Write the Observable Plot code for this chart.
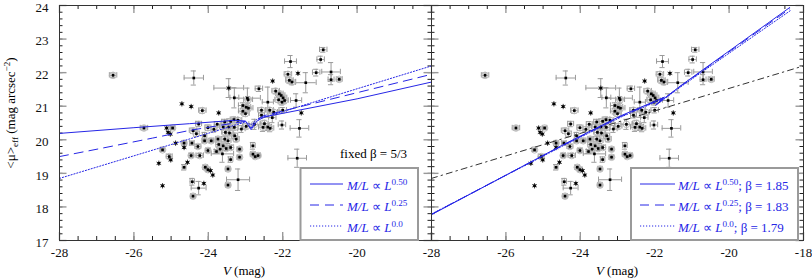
<!DOCTYPE html>
<html><head><meta charset="utf-8">
<script src="https://cdn.jsdelivr.net/npm/d3@7"></script>
<script src="https://cdn.jsdelivr.net/npm/@observablehq/plot@0.6"></script>
<style>
html,body{margin:0;padding:0;background:#fff;}
#chart{width:812px;height:280px;}
#chart svg{display:block;}
</style></head><body><div id="chart"></div>
<script>
// ---- galaxy measurements (V magnitude, mean effective surface brightness) ----
const V = [
 -26.56,-24.39,-24.71,-24.46,-24.16,-23.72,-23.45,-22.95,-22.64,-22.27,
 -22.40,-22.09,-22.04,-21.99,-22.11,-21.95,-22.02,-21.86,-21.79,-21.82,
 -21.75,-21.59,-21.38,-21.10,-20.98,-20.91,-20.70,-20.70,-20.48,-21.64,
 -21.50,-21.55,-22.02,-22.28,-22.40,-22.49,-22.53,-22.34,-22.76,-23.07,
 -22.98,-22.92,-23.07,-23.00,-22.93,-25.73,-25.12,-24.96,-25.08,-25.02,
 -24.26,-24.41,-24.88,-24.65,-24.65,-24.44,-24.10,-24.10,-23.92,-23.74,
 -24.28,-24.46,-24.23,-24.01,-23.78,-25.23,-25.05,-25.01,-25.33,-24.56,
 -24.65,-24.08,-24.01,-23.94,-23.88,-25.23,-24.43,-24.12,-24.26,-24.41,
 -23.60,-23.45,-23.30,-22.98,-23.54,-23.43,-23.29,-23.25,-23.56,-23.47,
 -23.11,-23.60,-23.52,-23.40,-23.62,-23.16,-23.16,-23.40,-22.80,-22.80,
 -22.74,-22.66,-23.47,-23.47,-23.20,-21.61,-23.40,-23.31,-23.20,-23.85,
 -23.76,-24.01,-24.32,-23.72,-23.68,-22.57,-22.35,-22.24,-22.00,-23.56,
 -23.30,-22.57,-22.19
];
const MU = [
 21.92,21.84,21.07,20.99,20.87,20.80,21.54,21.24,21.52,21.75,
 21.12,21.37,21.32,21.25,21.19,21.17,21.12,21.95,22.33,21.77,
 21.72,21.98,21.70,22.00,22.39,22.68,22.02,21.79,21.80,21.17,
 20.80,20.34,20.44,20.66,20.38,20.48,20.37,20.34,20.46,21.02,
 20.97,20.94,20.85,20.78,21.19,20.35,20.35,20.35,20.22,20.17,
 20.47,20.27,19.90,19.90,19.77,19.90,20.12,19.97,19.97,20.02,
 19.80,19.53,19.53,19.68,19.65,19.70,19.50,19.40,19.30,19.33,
 19.18,19.18,19.11,19.08,18.95,18.63,18.75,18.70,18.56,18.32,
 20.38,20.38,20.37,20.40,20.22,20.20,20.12,20.02,20.02,19.97,
 20.32,19.82,19.74,19.77,19.58,19.72,19.48,19.41,19.82,19.57,
 19.50,19.53,19.13,18.65,18.81,19.45,20.55,20.60,20.58,20.31,
 20.46,20.36,20.18,19.86,19.72,20.88,20.88,20.82,20.88,20.53,
 21.25,20.73,21.45
];
const V_ERR = [
 0.10,0.26,0,0,0.10,0,0.40,0.35,0.10,0,
 0.15,0.10,0.10,0.10,0.10,0.10,0.10,0.10,0.16,0.10,
 0.10,0,0.28,0.10,0.10,0.10,0.25,0.08,0.08,0.15,
 0,0.25,0.10,0.10,0.10,0.10,0.12,0.10,0.15,0.12,
 0.12,0.12,0.12,0.10,0.12,0.10,0,0.06,0,0,
 0.08,0.10,0,0.06,0,0.06,0.06,0.06,0.06,0.06,
 0.08,0.06,0.10,0.06,0.06,0.06,0.08,0,0,0,
 0.05,0.06,0.06,0,0,0,0.06,0,0.20,0.06,
 0.10,0.10,0.10,0.10,0.10,0.10,0.08,0.08,0.08,0.08,
 0.10,0.08,0.08,0.08,0.30,0.06,0.06,0.06,0.06,0.06,
 0.06,0.06,0.06,0.06,0.31,0.25,0.10,0.10,0.10,0.08,
 0.08,0.08,0.08,0.08,0.08,0.10,0.10,0.10,0.10,0.08,
 0.12,0.08,0.10
];
const MU_ERR = [
 0.07,0.21,0,0,0.08,0,0.28,0.30,0.08,0,
 0.45,0.08,0.08,0.08,0.08,0.08,0.08,0.08,0.18,0.08,
 0.08,0,0.30,0.10,0.10,0.07,0.28,0.15,0.05,0.20,
 0,0.26,0.12,0.15,0.10,0.10,0.12,0.10,0.15,0.08,
 0.08,0.08,0.08,0.08,0.10,0.06,0,0.05,0,0,
 0.08,0.08,0,0.06,0,0.06,0.10,0.06,0.06,0.06,
 0.06,0.06,0.06,0.06,0.06,0.05,0.06,0,0,0,
 0.08,0.06,0.06,0,0,0,0.10,0,0.20,0.06,
 0.08,0.08,0.08,0.08,0.08,0.08,0.08,0.08,0.08,0.08,
 0.10,0.06,0.06,0.06,0.25,0.06,0.06,0.08,0.10,0.06,
 0.06,0.06,0.06,0.06,0.32,0.27,0.08,0.08,0.08,0.08,
 0.08,0.08,0.08,0.08,0.08,0.08,0.08,0.08,0.08,0.08,
 0.30,0.08,0.08
];
// c = ringed symbol, a = asterisk, p = plain dot
const KIND = (
 "cpaacaappa" + "pcccccccpc" + "cappppppcp" + "appppccccp" + "ccccccacaa" +
 "pcacappccc" + "ccccpccaaa" + "pccaaapapc" + "ccccccpccp" + "pcccpccppc" +
 "ccccppcccc" + "pcccccccpp" + "ppc"
).split("");

// ---- model curves ----
const FIXED_050_V  = [-28, -26, -24.5, -23.3, -23.0, -22.85, -22.7, -22.5, -20, -18];
const FIXED_050_MU = [20.19, 20.36, 20.48, 20.58, 20.56, 20.30, 20.55, 20.68, 21.22, 21.72];
const FIXED_025_V  = [-28, -26.9, -25.5, -24.5, -23.3, -23.0, -22.85, -22.7, -22.5, -18];
const FIXED_025_MU = [19.50, 19.74, 20.05, 20.28, 20.50, 20.55, 20.35, 20.60, 20.72, 21.95];
const FIXED_000_V  = [-28, -23.0, -22.85, -22.7, -18];
const FIXED_000_MU = [18.85, 20.53, 20.45, 20.60, 22.20];
const FIT_050_V  = [-28, -24.5, -22.9, -21.74, -21.96, -21.29, -18.37];
const FIT_050_MU = [17.77, 19.83, 20.72, 21.27, 21.05, 21.62, 23.94];
const FIT_025_V  = [-28, -24.5, -22.9, -21.76, -21.97, -21.30, -18.37];
const FIT_025_MU = [17.78, 19.82, 20.70, 21.25, 21.04, 21.60, 23.90];
const FIT_000_V  = [-28, -24.5, -22.9, -21.78, -21.98, -21.31, -18.35];
const FIT_000_MU = [17.79, 19.80, 20.68, 21.22, 21.02, 21.57, 23.85];
const BETA53_V  = [-28, -18];
const BETA53_MU = [18.85, 22.20];

// ---- axes / legend text ----
const PANELS = ["fixed", "fit"];
const X_TICKS_FIXED = [-28, -26, -24, -22, -20];
const X_TICKS_FIT = [-28, -26, -24, -22, -20, -18];
const Y_TICKS = [17, 18, 19, 20, 21, 22, 23, 24];
const LEGEND_EXP = ["0.50", "0.25", "0.0"];
const FIT_BETA = ["1.85", "1.83", "1.79"];
const FIXED_BETA = "5/3";

// ---------------------------------------------------------------
const BLUE = "#2626e6";
const FONT = "'Liberation Serif','Times New Roman',serif";
const DASH = {"0.50": null, "0.25": "9,6", "0.0": "1.2,1.8"};

const pts = V.map((v, i) => ({v, mu: MU[i], xe: V_ERR[i], ye: MU_ERR[i], k: KIND[i]}));
const errPts = pts.filter(d => d.xe > 0 || d.ye > 0);
const CAP_V = 0.07, CAP_MU = 0.08;

const curve = (p, vs, ms) => vs.map((v, i) => ({p, v, mu: ms[i]}));
const lines050 = [...curve("fixed", FIXED_050_V, FIXED_050_MU), ...curve("fit", FIT_050_V, FIT_050_MU)];
const lines025 = [...curve("fixed", FIXED_025_V, FIXED_025_MU), ...curve("fit", FIT_025_V, FIT_025_MU)];
const lines000 = [...curve("fixed", FIXED_000_V, FIXED_000_MU), ...curve("fit", FIT_000_V, FIT_000_MU)];
const linesBeta = curve("fit", BETA53_V, BETA53_MU);

const X_MAJOR = d3.range(-28, -17.9, 2);
const X_MINOR = d3.range(-28, -17.9, 0.5);
const Y_MAJOR = Y_TICKS;
const Y_MINOR = d3.range(17, 24.01, 0.2);

const xTickRows = PANELS.flatMap(p => (p === "fixed" ? X_TICKS_FIXED : X_TICKS_FIT).map(v => ({p, v})));
const yTickRows = Y_TICKS.map(v => ({p: "fixed", v}));

const FW = 372.5; // facet width in px
const ERR = "#9a9a9a";
const plot = Plot.plot({
  width: 812, height: 280,
  marginLeft: 58, marginRight: 9, marginTop: 5, marginBottom: 40,
  style: {fontFamily: FONT, fontSize: "13px", background: "white", overflow: "visible"},
  fx: {domain: PANELS, padding: 0, axis: null, label: null},
  x: {domain: [-28, -18], axis: null},
  y: {domain: [17, 24], axis: null},
  marks: [
    // ticks (inward)
    Plot.tickX(X_MINOR, {stroke: "#222", insetTop: 231}),
    Plot.tickX(X_MINOR, {stroke: "#222", insetBottom: 231}),
    Plot.tickX(X_MAJOR, {stroke: "#999", strokeWidth: 1.4, insetTop: 227}),
    Plot.tickX(X_MAJOR, {stroke: "#999", strokeWidth: 1.4, insetBottom: 227}),
    Plot.tickY(Y_MINOR, {stroke: "#222", insetRight: FW - 4}),
    Plot.tickY(Y_MINOR, {stroke: "#222", insetLeft: FW - 4}),
    Plot.tickY(Y_MAJOR, {stroke: "#999", strokeWidth: 1.4, insetRight: FW - 8}),
    Plot.tickY(Y_MAJOR, {stroke: "#999", strokeWidth: 1.4, insetLeft: FW - 8}),
    // error bars
    Plot.ruleX(errPts, {x: "v", y1: d => d.mu - d.ye, y2: d => d.mu + d.ye, stroke: ERR}),
    Plot.ruleY(errPts, {y: "mu", x1: d => d.v - d.xe, x2: d => d.v + d.xe, stroke: ERR}),
    Plot.ruleY(errPts, {y: d => d.mu - d.ye, x1: d => d.v - CAP_V, x2: d => d.v + CAP_V, stroke: ERR}),
    Plot.ruleY(errPts, {y: d => d.mu + d.ye, x1: d => d.v - CAP_V, x2: d => d.v + CAP_V, stroke: ERR}),
    Plot.ruleX(errPts, {x: d => d.v - d.xe, y1: d => d.mu - CAP_MU, y2: d => d.mu + CAP_MU, stroke: ERR}),
    Plot.ruleX(errPts, {x: d => d.v + d.xe, y1: d => d.mu - CAP_MU, y2: d => d.mu + CAP_MU, stroke: ERR}),
    // symbols
    Plot.dot(pts.filter(d => d.k === "c"), {x: "v", y: "mu", r: 3.3, stroke: "#bdbdbd", strokeWidth: 1, fill: "none"}),
    Plot.dot(pts.filter(d => d.k === "a"), {x: "v", y: "mu", r: 2.5, symbol: "asterisk", stroke: "#444", strokeWidth: 1}),
    Plot.dot(pts, {x: "v", y: "mu", r: 1.5, symbol: "square", fill: "#000", stroke: "none"}),
    // model lines
    Plot.line(linesBeta, {x: "v", y: "mu", fx: "p", stroke: "#333", strokeWidth: 1, strokeDasharray: "6,4,1.5,4"}),
    Plot.line(lines000, {x: "v", y: "mu", fx: "p", stroke: BLUE, strokeWidth: 1, strokeDasharray: DASH["0.0"]}),
    Plot.line(lines025, {x: "v", y: "mu", fx: "p", stroke: BLUE, strokeWidth: 1, strokeDasharray: DASH["0.25"]}),
    Plot.line(lines050, {x: "v", y: "mu", fx: "p", stroke: BLUE, strokeWidth: 1}),
    // tick labels
    Plot.text(xTickRows, {x: "v", fx: "p", frameAnchor: "bottom", dy: 16, text: d => String(d.v), fill: "#111"}),
    Plot.text(yTickRows, {y: "v", fx: "p", frameAnchor: "left", dx: -11, dy: 2, textAnchor: "end", text: d => String(d.v), fill: "#111"}),
    Plot.frame({stroke: "#333"})
  ]
});
document.getElementById("chart").appendChild(plot);

// ---- rich text (italics, sub/superscripts) and legends ----
const svg = d3.select(plot);
function rich(x, y, parts, {anchor = "start", fill = "#000", size = 13, rotate = 0} = {}) {
  const t = svg.append("text")
    .attr("transform", `translate(${x},${y})` + (rotate ? ` rotate(${rotate})` : ""))
    .attr("text-anchor", anchor).attr("fill", fill)
    .style("font-family", FONT).style("font-size", size + "px");
  let shift = 0;
  for (const p of parts) {
    const target = p.sup ? -5 : p.sub ? 3 : 0;
    const ts = t.append("tspan").attr("dy", target - shift).text(p.t);
    shift = target;
    if (p.sup || p.sub) ts.style("font-size", (size * 0.7) + "px");
    if (p.it) ts.style("font-style", "italic");
  }
  return t;
}
// axis titles
rich(15, 113, [{t: "<μ>"}, {t: "eff", sub: 1}, {t: " (mag arcsec"}, {t: "−2", sup: 1}, {t: ")"}], {anchor: "middle", rotate: -90});
rich(244, 275, [{t: "V", it: 1}, {t: " (mag)"}], {anchor: "middle"});
rich(617, 275, [{t: "V", it: 1}, {t: " (mag)"}], {anchor: "middle"});
rich(407, 158, [{t: "fixed β = " + FIXED_BETA}], {anchor: "end"});

function legendBox(x, y, w, h) {
  svg.append("rect").attr("x", x).attr("y", y).attr("width", w).attr("height", h)
    .attr("fill", "white").attr("stroke", "#9a9a9a").attr("stroke-width", 2);
}
const ROW_LINE = [184, 205, 226], ROW_TEXT = [190, 211, 232];
legendBox(300.5, 168, 117.5, 72);
legendBox(631, 168, 167, 72);
LEGEND_EXP.forEach((e, i) => {
  [[310, 343, 347, null], [640, 675, 678, FIT_BETA[i]]].forEach(([a, b, tx, beta]) => {
    const ln = svg.append("line").attr("x1", a).attr("x2", b).attr("y1", ROW_LINE[i]).attr("y2", ROW_LINE[i])
      .attr("stroke", BLUE).attr("stroke-width", 1);
    if (DASH[e]) ln.attr("stroke-dasharray", DASH[e]);
    const parts = [{t: "M/L", it: 1}, {t: " ∝ "}, {t: "L", it: 1}, {t: e, sup: 1}];
    if (beta) parts.push({t: "; β = " + beta});
    rich(tx, ROW_TEXT[i], parts, {fill: BLUE});
  });
});
</script>
</body></html>
